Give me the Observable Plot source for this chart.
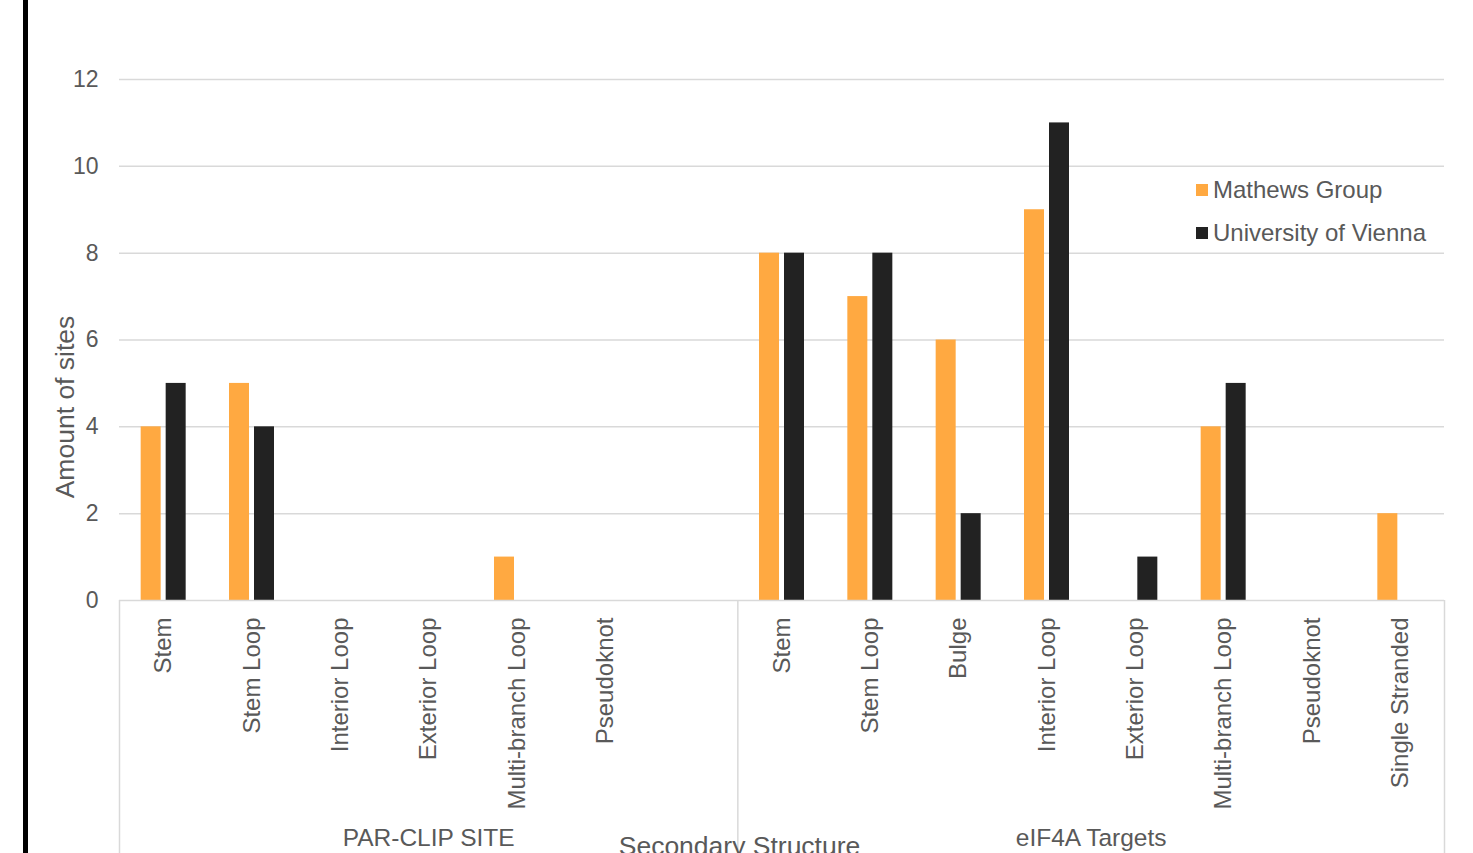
<!DOCTYPE html>
<html>
<head>
<meta charset="utf-8">
<script src="https://cdn.jsdelivr.net/npm/d3@7"></script>
<script src="https://cdn.jsdelivr.net/npm/@observablehq/plot@0.6"></script>
<style>
  html, body { margin: 0; padding: 0; background: #fff; overflow: hidden; }
  #wrap { position: relative; width: 1473px; height: 853px; font-family: "Liberation Sans", Arial, sans-serif; }
  #border { position: absolute; left: 23px; top: 0; width: 5px; height: 853px; background: #000; }
  #legend { position: absolute; left: 1196px; top: 175px; font-size: 24px; color: #595959; }
  #legend .item { display: flex; align-items: center; height: 30px; margin-bottom: 13px; }
  #legend .sw { width: 12px; height: 12px; margin-right: 5px; }
  svg { position: absolute; left: 0; top: 0; }
</style>
</head>
<body>
<div id="wrap"><div id="border"></div><div id="legend"></div></div>
<script>
// ---- data ----
const groups = ["PAR-CLIP SITE", "eIF4A Targets"];
const parCats = ["Stem", "Stem Loop", "Interior Loop", "Exterior Loop", "Multi-branch Loop", "Pseudoknot", ""];
const eifCats = ["Stem", "Stem Loop", "Bulge", "Interior Loop", "Exterior Loop", "Multi-branch Loop", "Pseudoknot", "Single Stranded"];
const parMathews = [4, 5, 0, 0, 1, 0, null];
const parVienna  = [5, 4, 0, 0, 0, 0, null];
const eifMathews = [8, 7, 6, 9, 0, 4, 0, 2];
const eifVienna  = [8, 8, 2, 11, 1, 5, 0, 0];
const seriesNames = ["Mathews Group", "University of Vienna"];
const seriesColors = ["#FFA941", "#222222"];
const yTicks = [0, 2, 4, 6, 8, 10, 12];
const yTitle = "Amount of sites";
const xTitle = "Secondary Structure";

// ---- build table ----
const slots = [];
parCats.forEach((c, i) => slots.push({key: "P" + i, label: c, group: groups[0], m: parMathews[i], v: parVienna[i]}));
eifCats.forEach((c, i) => slots.push({key: "E" + i, label: c, group: groups[1], m: eifMathews[i], v: eifVienna[i]}));
const bars = [];
slots.forEach(s => {
  if (s.m != null) bars.push({key: s.key, series: seriesNames[0], value: s.m});
  if (s.v != null) bars.push({key: s.key, series: seriesNames[1], value: s.v});
});

const W = 1473, H = 853;
const mL = 119, mR = 29, mT = 79, mB = 253;
const bw = (W - mL - mR) / slots.length;
const barW = 20, gap = 5;
const half = bw / 2;
const gray = "#595959";
const lineC = "#D9D9D9";

const boundaries = [slots[0].key, slots[parCats.length].key];
const lastKey = slots[slots.length - 1].key;

const chart = Plot.plot({
  width: W, height: H,
  marginLeft: mL, marginRight: mR, marginTop: mT, marginBottom: mB,
  style: {fontFamily: "'Liberation Sans', Arial, sans-serif", fontSize: "23px", color: gray, background: "transparent", overflow: "visible"},
  x: {domain: slots.map(s => s.key), padding: 0, round: false, axis: null},
  y: {domain: [0, 12], ticks: yTicks, axis: null},
  marks: [
    Plot.gridY(yTicks.filter(t => t > 0), {stroke: lineC, strokeOpacity: 1, strokeWidth: 1.5}),
    Plot.axisY(yTicks, {tickSize: 0, tickPadding: 21, fontSize: 23, fill: gray, label: null}),
    Plot.barY(bars.filter(d => d.series === seriesNames[0]), {
      x: "key", y: "value", fill: seriesColors[0],
      insetLeft: half - gap / 2 - barW, insetRight: half + gap / 2
    }),
    Plot.barY(bars.filter(d => d.series === seriesNames[1]), {
      x: "key", y: "value", fill: seriesColors[1],
      insetLeft: half + gap / 2, insetRight: half - gap / 2 - barW
    }),
    Plot.ruleY([0], {stroke: lineC, strokeWidth: 1.5}),
    Plot.ruleX(boundaries, {x: d => d, dx: -half, stroke: lineC, strokeWidth: 1.5, insetTop: H - mT - mB, insetBottom: -mB}),
    Plot.ruleX([lastKey], {x: d => d, dx: half, stroke: lineC, strokeWidth: 1.5, insetTop: H - mT - mB, insetBottom: -mB}),
    Plot.text(slots.filter(s => s.label), {
      x: "key", text: "label", frameAnchor: "bottom", dy: 17, rotate: -90,
      textAnchor: "end", lineAnchor: "middle", fill: gray, fontSize: 24
    }),
    Plot.text([groups[0]], {
      x: () => slots[3].key, text: d => d, frameAnchor: "bottom", dy: 245, fill: gray, fontSize: 24.5
    }),
    Plot.text([groups[1]], {
      x: () => slots[parCats.length + 3].key, dx: half, text: d => d, frameAnchor: "bottom", dy: 245, fill: gray, fontSize: 24.5
    }),
    Plot.text([xTitle], {
      text: d => d, frameAnchor: "bottom", textAnchor: "middle", dx: 739 - (mL + (W - mL - mR) / 2), dy: 254, fill: gray, fontSize: 26.5
    }),
    Plot.text([yTitle], {
      text: d => d, frameAnchor: "left", textAnchor: "middle", dx: -54, dy: 67, rotate: -90, fill: gray, fontSize: 26.5
    })
  ]
});
document.getElementById("wrap").appendChild(chart);

// legend
const lg = document.getElementById("legend");
seriesNames.forEach((n, i) => {
  const it = document.createElement("div");
  it.className = "item";
  it.innerHTML = `<span class="sw" style="background:${seriesColors[i]}"></span><span>${n}</span>`;
  lg.appendChild(it);
});
</script>
</body>
</html>
